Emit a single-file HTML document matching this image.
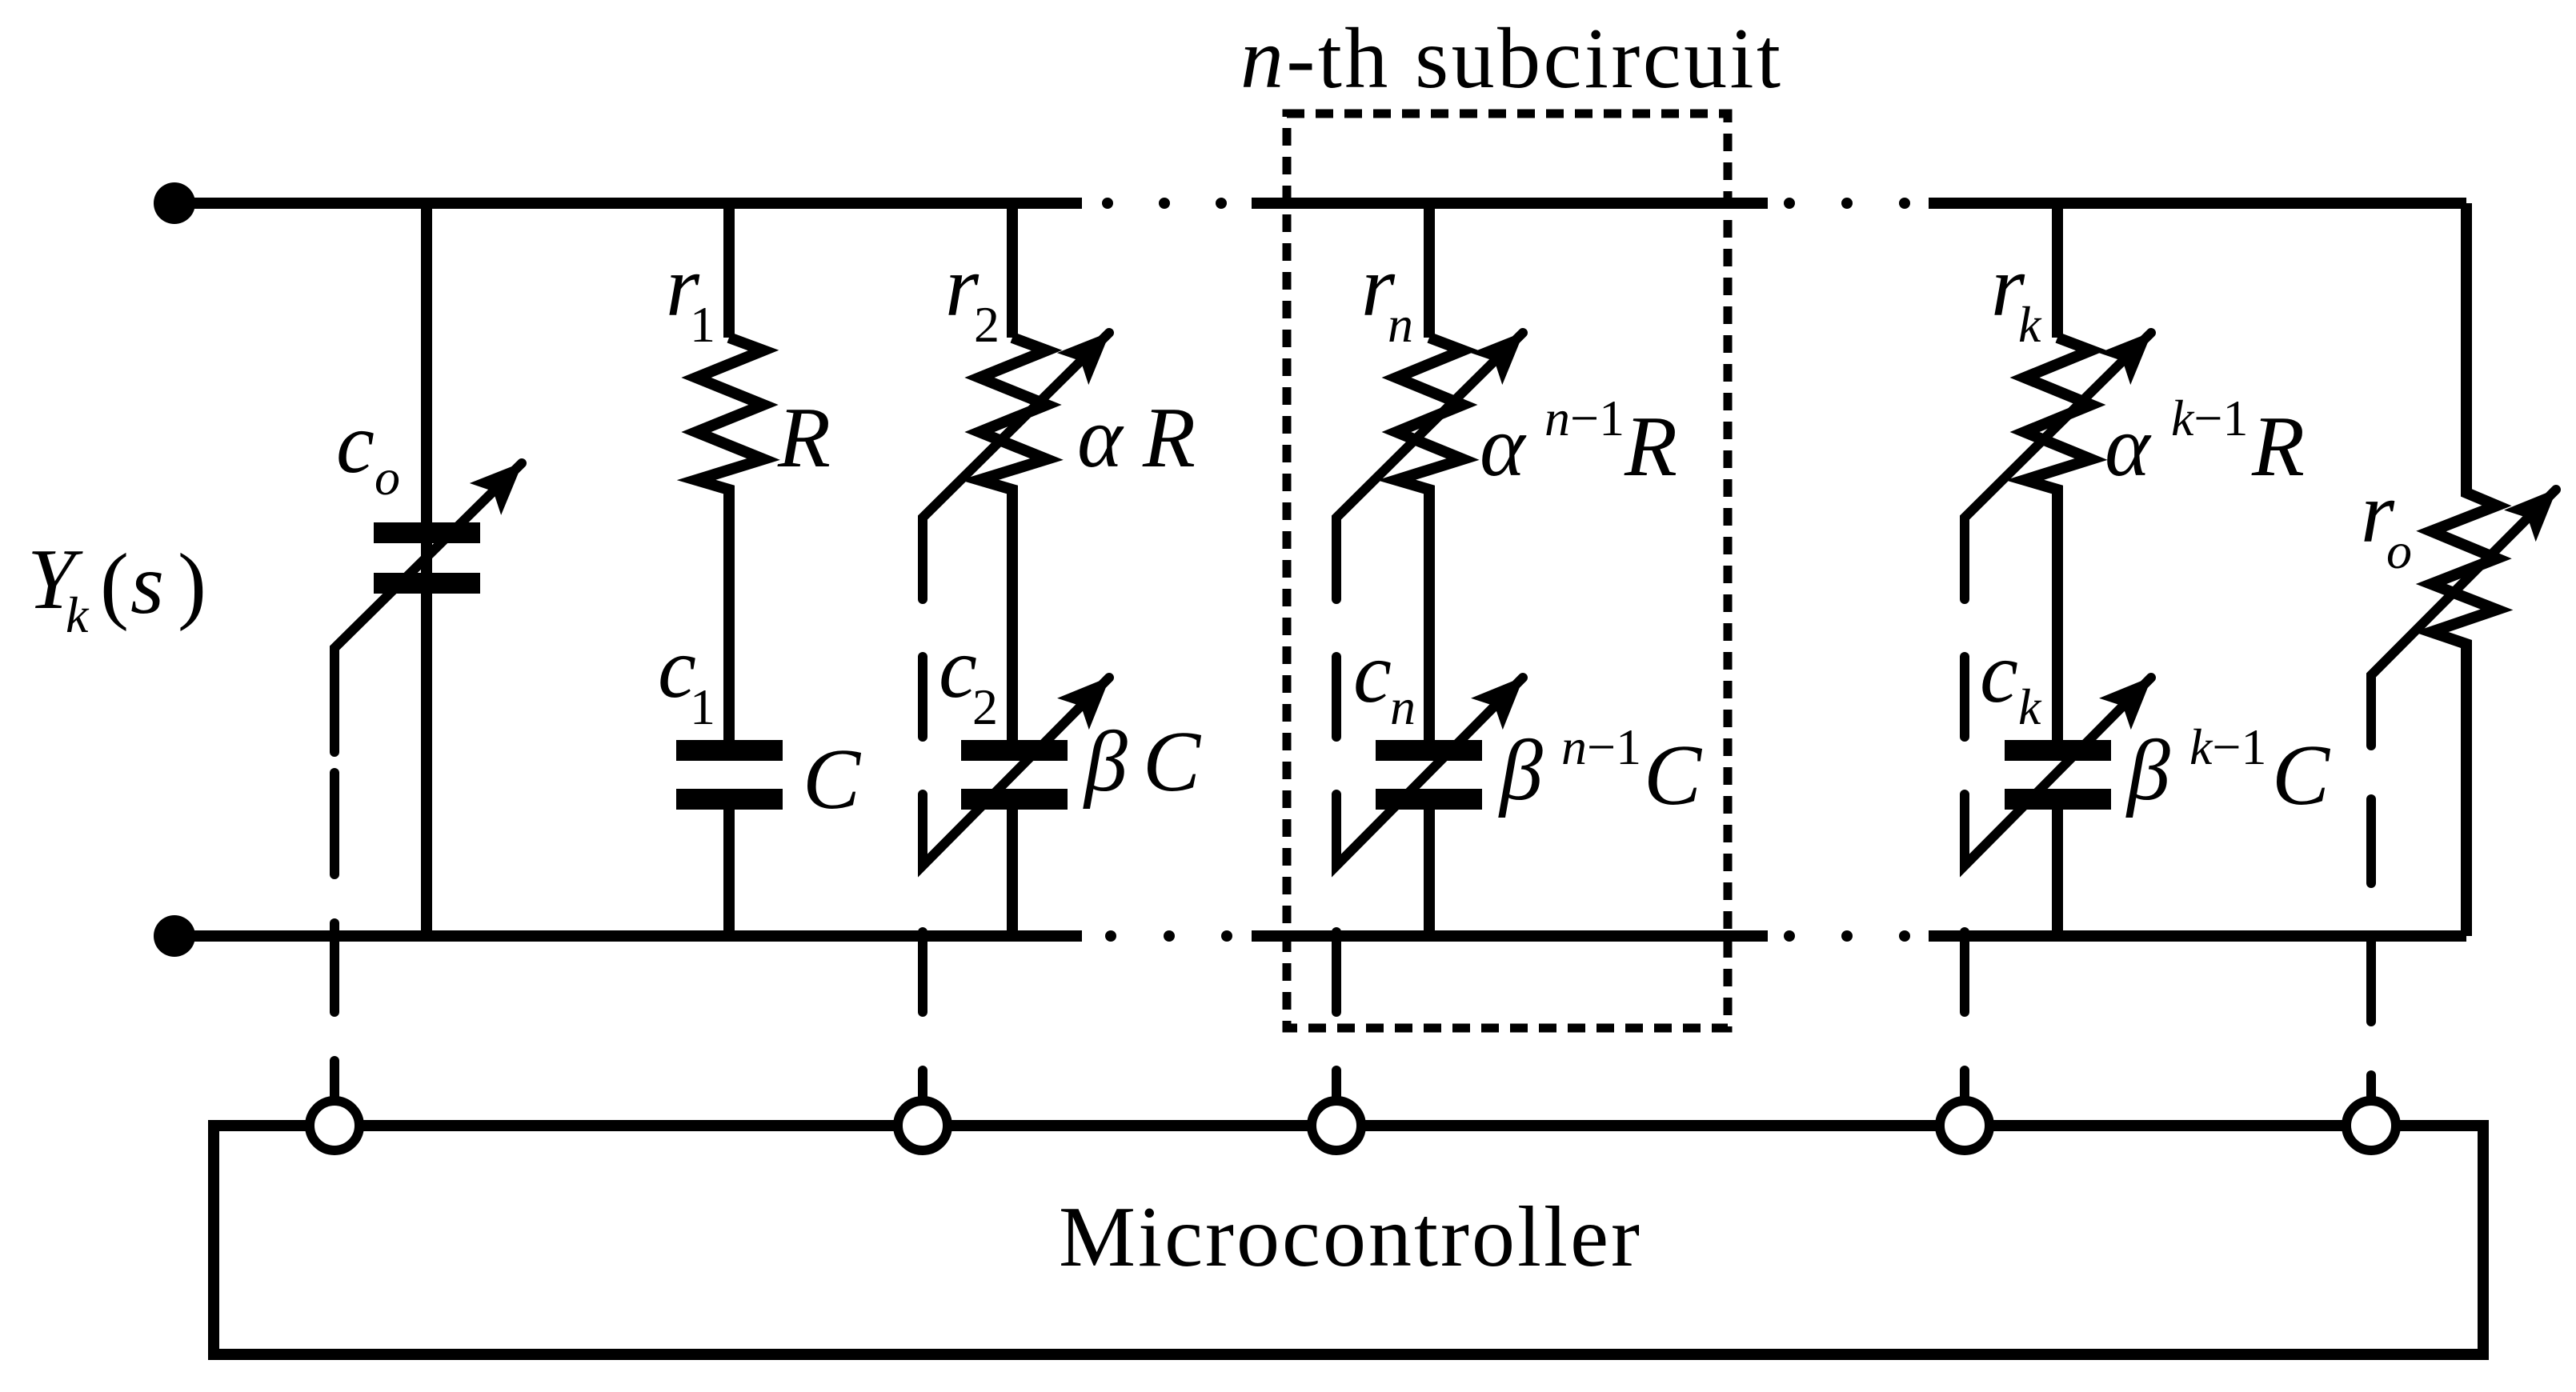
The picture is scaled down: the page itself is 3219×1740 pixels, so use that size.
<!DOCTYPE html>
<html><head><meta charset="utf-8"><style>
html,body{margin:0;padding:0;background:#fff;}
svg{display:block}
svg text, svg tspan{font-family:"Liberation Serif","Times New Roman",serif;fill:#000}
.i{font-style:italic}
</style></head><body>
<svg width="3219" height="1740" viewBox="0 0 3219 1740" xmlns="http://www.w3.org/2000/svg" font-family="Liberation Serif, Times New Roman, serif">
<defs>
<marker id="ah" markerUnits="userSpaceOnUse" markerWidth="80" markerHeight="80" refX="64" refY="30" orient="auto">
<path d="M0,2 L66,30 L0,58 L14,30 Z" fill="#000"/>
</marker>
</defs>
<g stroke="#000" stroke-width="14" fill="none" stroke-linecap="butt">
<line x1="218" y1="254" x2="1352" y2="254"/>
<line x1="1564" y1="254" x2="2209" y2="254"/>
<line x1="2410" y1="254" x2="3082" y2="254"/>
<line x1="218" y1="1170" x2="1352" y2="1170"/>
<line x1="1564" y1="1170" x2="2209" y2="1170"/>
<line x1="2410" y1="1170" x2="3082" y2="1170"/>
<line x1="533" y1="254" x2="533" y2="1170"/>
<line x1="911" y1="254" x2="911" y2="422"/>
<polyline points="911,422 954,438 870,472 954,506 870,540 954,574 870,600 911,612 911,938"/>
<line x1="911" y1="999" x2="911" y2="1170"/>
<line x1="1265" y1="254" x2="1265" y2="422"/>
<polyline points="1265,422 1308,438 1224,472 1308,506 1224,540 1308,574 1224,600 1265,612 1265,938"/>
<line x1="1265" y1="999" x2="1265" y2="1170"/>
<line x1="1786" y1="254" x2="1786" y2="422"/>
<polyline points="1786,422 1828,438 1745,472 1828,506 1745,540 1828,574 1745,600 1786,612 1786,938"/>
<line x1="1786" y1="999" x2="1786" y2="1170"/>
<line x1="2571" y1="254" x2="2571" y2="422"/>
<polyline points="2571,422 2613,438 2530,472 2613,506 2530,540 2613,574 2530,600 2571,612 2571,938"/>
<line x1="2571" y1="999" x2="2571" y2="1170"/>
<polyline points="3082,254 3082,616 3120,632 3038,664 3120,698 3038,730 3120,762 3038,790 3082,805 3082,1170"/>
<rect x="267" y="1407" width="2836" height="286"/>
</g>
<g fill="#000">
<rect x="467" y="653" width="133" height="26"/><rect x="467" y="716" width="133" height="26"/>
<rect x="845" y="925" width="133" height="26"/><rect x="845" y="986" width="133" height="26"/>
<rect x="1201" y="925" width="133" height="26"/><rect x="1201" y="986" width="133" height="26"/>
<rect x="1719" y="925" width="133" height="26"/><rect x="1719" y="986" width="133" height="26"/>
<rect x="2505" y="925" width="133" height="26"/><rect x="2505" y="986" width="133" height="26"/>
<circle cx="218" cy="254" r="26"/><circle cx="218" cy="1170" r="26"/>
<circle cx="1384" cy="254" r="7"/><circle cx="1455" cy="254" r="7"/><circle cx="1526" cy="254" r="7"/>
<circle cx="2236" cy="254" r="7"/><circle cx="2308" cy="254" r="7"/><circle cx="2380" cy="254" r="7"/>
<circle cx="1388" cy="1170" r="7"/><circle cx="1461" cy="1170" r="7"/><circle cx="1533" cy="1170" r="7"/>
<circle cx="2236" cy="1170" r="7"/><circle cx="2308" cy="1170" r="7"/><circle cx="2380" cy="1170" r="7"/>
</g>
<g stroke="#000" stroke-width="12" fill="none" marker-end="url(#ah)" stroke-linecap="round">
<polyline points="418,940 418,810 652,579"/>
<polyline points="1153,749 1153,647 1386,416"/>
<polyline points="1153,993 1153,1082 1386,847"/>
<polyline points="1670,749 1670,647 1903,416"/>
<polyline points="1670,993 1670,1082 1903,847"/>
<polyline points="2455,749 2455,647 2688,416"/>
<polyline points="2455,993 2455,1082 2688,847"/>
<polyline points="2963,932 2963,844 3194,612"/>
</g>
<g stroke="#000" stroke-width="12" stroke-linecap="round">
<line x1="418" y1="966" x2="418" y2="1093"/><line x1="418" y1="1154" x2="418" y2="1265"/><line x1="418" y1="1326" x2="418" y2="1372"/>
<line x1="1153" y1="821" x2="1153" y2="921"/><line x1="1153" y1="1165" x2="1153" y2="1265"/><line x1="1153" y1="1338" x2="1153" y2="1372"/>
<line x1="1670" y1="821" x2="1670" y2="921"/><line x1="1670" y1="1165" x2="1670" y2="1265"/><line x1="1670" y1="1338" x2="1670" y2="1372"/>
<line x1="2455" y1="821" x2="2455" y2="921"/><line x1="2455" y1="1165" x2="2455" y2="1265"/><line x1="2455" y1="1338" x2="2455" y2="1372"/>
<line x1="2963" y1="999" x2="2963" y2="1104"/><line x1="2963" y1="1177" x2="2963" y2="1277"/><line x1="2963" y1="1344" x2="2963" y2="1372"/>
</g>
<g stroke="#000" stroke-width="12" fill="#fff">
<circle cx="418" cy="1407" r="31"/><circle cx="1153" cy="1407" r="31"/><circle cx="1670" cy="1407" r="31"/><circle cx="2455" cy="1407" r="31"/><circle cx="2963" cy="1407" r="31"/>
</g>
<rect x="1608" y="142" width="551" height="1143" fill="none" stroke="#000" stroke-width="11" stroke-dasharray="22,14"/>
<text x="1550" y="109" font-size="108" textLength="675" font-family="Liberation Serif, serif"><tspan class="i">n</tspan>-th subcircuit</text>
<text x="1323" y="1582" font-size="108" textLength="726" font-family="Liberation Serif, serif">Microcontroller</text>
<g class="i" font-size="108" font-family="Liberation Serif, serif">
<text x="34" y="760">Y</text><text x="82" y="790" font-size="64">k</text>
<text x="125" y="766" font-style="normal">(</text><text x="163" y="766">s</text><text x="222" y="766" font-style="normal">)</text>
<text x="420" y="590">c</text><text x="468" y="618" font-size="64">o</text>
<text x="832" y="394">r</text><text x="862" y="427" font-size="64" font-style="normal">1</text>
<text x="972" y="583">R</text>
<text x="822" y="871">c</text><text x="862" y="905" font-size="64" font-style="normal">1</text>
<text x="1003" y="1010">C</text>
<text x="1181" y="394">r</text><text x="1217" y="427" font-size="64" font-style="normal">2</text>
<text x="1346" y="583">α</text><text x="1428" y="583">R</text>
<text x="1173" y="871">c</text><text x="1215" y="905" font-size="64" font-style="normal">2</text>
<text x="1355" y="988">β</text><text x="1428" y="988">C</text>
<text x="1701" y="394">r</text><text x="1734" y="427" font-size="64">n</text>
<text x="1849" y="594">α</text><text x="1930" y="544" font-size="64">n<tspan font-style="normal">−1</tspan></text><text x="2030" y="594">R</text>
<text x="1691" y="877">c</text><text x="1737" y="905" font-size="64">n</text>
<text x="1874" y="999">β</text><text x="1951" y="955" font-size="64">n<tspan font-style="normal">−1</tspan></text><text x="2054" y="1005">C</text>
<text x="2488" y="394">r</text><text x="2522" y="427" font-size="64">k</text>
<text x="2630" y="594">α</text><text x="2713" y="544" font-size="64">k<tspan font-style="normal">−1</tspan></text><text x="2814" y="594">R</text>
<text x="2474" y="877">c</text><text x="2522" y="905" font-size="64">k</text>
<text x="2658" y="999">β</text><text x="2736" y="955" font-size="64">k<tspan font-style="normal">−1</tspan></text><text x="2839" y="1005">C</text>
<text x="2950" y="677">r</text><text x="2982" y="710" font-size="64">o</text>
</g>
</svg>
</body></html>
